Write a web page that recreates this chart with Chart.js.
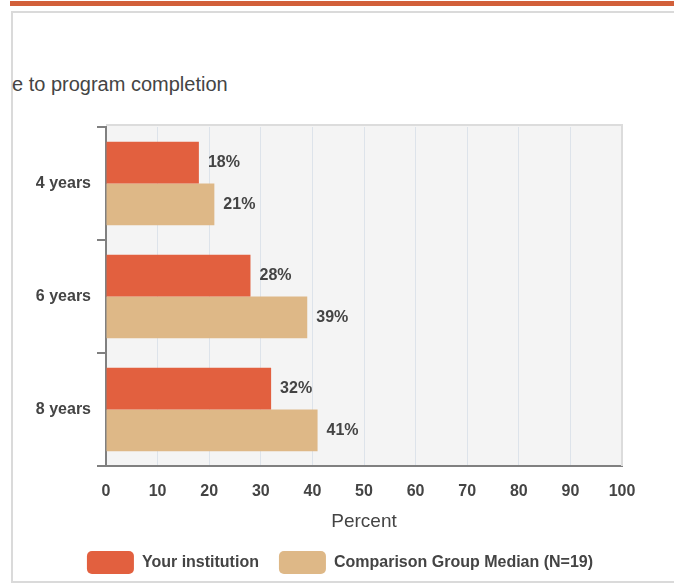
<!DOCTYPE html>
<html>
<head>
<meta charset="utf-8">
<script src="https://cdn.jsdelivr.net/npm/chart.js@4"></script>
<style>
html,body{margin:0;padding:0;background:#fff;width:674px;height:584px;overflow:hidden;font-family:"Liberation Sans",Arial,sans-serif;}
#topbar{position:absolute;left:10px;top:1px;width:664px;height:5px;background:#D2603A;}
#box{position:absolute;left:11px;top:11px;width:680px;height:572px;border:2px solid #dadada;box-sizing:border-box;}
#title{position:absolute;left:12px;top:73px;font-size:20px;color:#444;white-space:nowrap;}
#c{position:absolute;left:0;top:0;}
</style>
</head>
<body>
<div id="topbar"></div>
<div id="box"></div>
<div id="title">e to program completion</div>
<canvas id="c" width="674" height="584"></canvas>
<script>
const categories = ['4 years', '6 years', '8 years'];
const seriesNames = ['Your institution', 'Comparison Group Median (N=19)'];
const yourInstitution = [18, 28, 32];
const comparisonMedian = [21, 39, 41];
const axisTitle = 'Percent';

const FONT = '"Liberation Sans", Arial, sans-serif';

const plotBg = {
  id: 'plotBg',
  afterLayout(chart) {
    const lg = chart.legend;
    if (lg) { lg.left += 29; lg.right += 29; }
  },
  beforeDraw(chart) {
    const {ctx, chartArea: a} = chart;
    ctx.save();
    ctx.fillStyle = '#f4f4f4';
    ctx.fillRect(a.left, a.top - 2, a.right - a.left, a.bottom - a.top + 2);
    ctx.restore();
  },
  beforeDatasetsDraw(chart) {
    const {ctx, chartArea: a} = chart;
    ctx.save();
    ctx.strokeStyle = '#dcdcdc';
    ctx.lineWidth = 2;
    ctx.beginPath();
    ctx.moveTo(a.left, a.top - 2);
    ctx.lineTo(a.right, a.top - 2);
    ctx.lineTo(a.right, a.bottom);
    ctx.stroke();
    ctx.restore();
  }
};

const valueLabels = {
  id: 'valueLabels',
  afterDatasetsDraw(chart) {
    const {ctx} = chart;
    ctx.save();
    ctx.font = 'bold 16px ' + FONT;
    ctx.fillStyle = '#444';
    ctx.textAlign = 'left';
    ctx.textBaseline = 'middle';
    chart.data.datasets.forEach((ds, i) => {
      const meta = chart.getDatasetMeta(i);
      meta.data.forEach((el, j) => {
        ctx.fillText(ds.data[j] + '%', el.x + 9, el.y);
      });
    });
    ctx.restore();
  }
};

new Chart(document.getElementById('c'), {
  type: 'bar',
  data: {
    labels: categories,
    datasets: [
      {label: seriesNames[0], data: yourInstitution, backgroundColor: '#E2603F', borderWidth: 0,
       categoryPercentage: 0.74, barPercentage: 1.0},
      {label: seriesNames[1], data: comparisonMedian, backgroundColor: '#DEB887', borderWidth: 0,
       categoryPercentage: 0.74, barPercentage: 1.0}
    ]
  },
  options: {
    indexAxis: 'y',
    responsive: false,
    animation: false,
    events: [],
    layout: {padding: {left: 0, right: 52, top: 127, bottom: 0}},
    plugins: {
      tooltip: {enabled: false},
      legend: {
        position: 'bottom',
        labels: {
          boxWidth: 47, boxHeight: 23, padding: 20, useBorderRadius: true, borderRadius: 5,
          color: '#444', font: {family: FONT, size: 16, weight: 'bold'}
        }
      }
    },
    scales: {
      x: {
        min: 0, max: 100,
        ticks: {stepSize: 10, color: '#444', padding: 16, font: {family: FONT, size: 16, weight: 'bold'}},
        grid: {color: '#dde3ea', lineWidth: 1, drawTicks: false},
        border: {color: '#808080', width: 2},
        title: {display: true, text: axisTitle, color: '#444', padding: {top: 0, bottom: -2},
                font: {family: FONT, size: 19}},
        afterFit(s) { s.height = 65; }
      },
      y: {
        ticks: {color: '#444', padding: 6, font: {family: FONT, size: 16, weight: 'bold'}},
        grid: {drawOnChartArea: false, drawTicks: true, tickLength: 9, offset: true, color: '#808080', lineWidth: 2},
        border: {color: '#808080', width: 2},
        afterFit(s) { s.width = 106; }
      }
    }
  },
  plugins: [plotBg, valueLabels]
});
</script>
</body>
</html>
